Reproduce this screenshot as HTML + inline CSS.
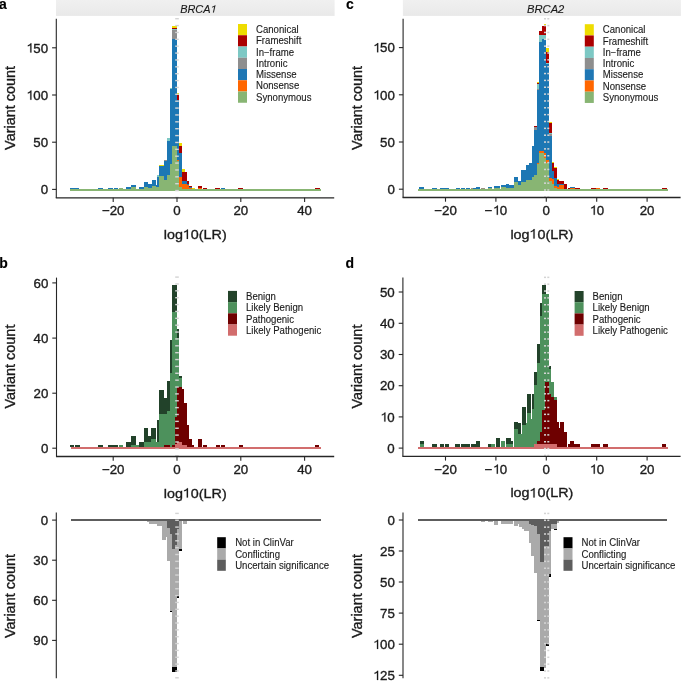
<!DOCTYPE html>
<html><head><meta charset="utf-8"><style>
html,body{margin:0;padding:0;background:#fff;width:685px;height:681px;overflow:hidden}
svg{display:block;will-change:transform}
text{font-family:"Liberation Sans", sans-serif;stroke:#1a1a1a;stroke-width:0.35px;paint-order:stroke}
text.lg{stroke-width:0.12px}
</style></head><body>
<svg width="685" height="681" viewBox="0 0 685 681" font-family='"Liberation Sans", sans-serif'>
<rect width="685" height="681" fill="#ffffff"/>
<defs><linearGradient id="sg" x1="0" y1="0" x2="0" y2="1"><stop offset="0" stop-color="#f0f0f0"/><stop offset="1" stop-color="#e9e9e9"/></linearGradient></defs>
<rect x="56.00" y="0.00" width="278.60" height="15.90" fill="url(#sg)"/>
<rect x="402.90" y="0.00" width="278.00" height="15.90" fill="url(#sg)"/>
<g transform="translate(180.15,12.6) scale(1.0135,1)">
<text x="0.00" y="0" font-size="10.8" font-weight="normal" font-style="italic" fill="#1a1a1a" class="lg">BRCA</text>
<path transform="translate(30.01,0) translate(-1.2,0) skewX(-12) scale(0.01080,-0.01080)" d="M415 0L415 690L358 690Q328 622 240 578Q190 555 145 542L145 466Q232 492 328 548L328 0Z" fill="#1a1a1a" stroke="#1a1a1a" stroke-width="7.4" stroke-linejoin="round"/>
</g>
<text x="545.7" y="12.6" font-size="10.8" text-anchor="middle" font-weight="normal" font-style="italic" fill="#1a1a1a" textLength="37.3" lengthAdjust="spacingAndGlyphs" class="lg">BRCA2</text>
<text x="-1.0" y="9.1" font-size="14" text-anchor="start" font-weight="bold" font-style="normal" fill="#000" class="lg">a</text>
<text x="345.9" y="9.2" font-size="14" text-anchor="start" font-weight="bold" font-style="normal" fill="#000" class="lg">c</text>
<text x="-0.8" y="267.6" font-size="14" text-anchor="start" font-weight="bold" font-style="normal" fill="#000" class="lg">b</text>
<text x="345.6" y="267.9" font-size="14" text-anchor="start" font-weight="bold" font-style="normal" fill="#000" class="lg">d</text>
<defs><filter id="bl" x="-5%" y="-5%" width="110%" height="110%"><feGaussianBlur stdDeviation="0.5"/></filter></defs>
<g shape-rendering="crispEdges" filter="url(#bl)">
<rect x="70.00" y="188.80" width="251.20" height="1.80" fill="#88B573"/>
<rect x="70.20" y="187.50" width="4.40" height="1.40" fill="#1F77B4"/>
<rect x="75.00" y="187.50" width="4.40" height="1.40" fill="#1F77B4"/>
<rect x="98.20" y="187.50" width="4.80" height="1.40" fill="#1F77B4"/>
<rect x="108.30" y="187.50" width="4.80" height="1.40" fill="#1F77B4"/>
<rect x="113.50" y="187.50" width="4.80" height="1.40" fill="#1F77B4"/>
<rect x="118.80" y="187.50" width="4.40" height="1.40" fill="#88B573"/>
<rect x="125.90" y="186.90" width="5.30" height="2.00" fill="#1F77B4"/>
<rect x="131.20" y="187.00" width="4.80" height="1.90" fill="#88B573"/>
<rect x="131.20" y="185.00" width="4.80" height="2.00" fill="#1F77B4"/>
<rect x="139.20" y="187.00" width="4.60" height="1.90" fill="#1F77B4"/>
<rect x="143.80" y="187.00" width="4.50" height="1.90" fill="#88B573"/>
<rect x="143.80" y="182.00" width="4.50" height="5.00" fill="#1F77B4"/>
<rect x="148.30" y="187.90" width="3.50" height="1.00" fill="#88B573"/>
<rect x="148.30" y="183.90" width="3.50" height="4.00" fill="#1F77B4"/>
<rect x="151.80" y="185.90" width="4.00" height="3.00" fill="#88B573"/>
<rect x="151.80" y="180.10" width="4.00" height="5.80" fill="#1F77B4"/>
<rect x="155.80" y="187.00" width="1.20" height="1.90" fill="#88B573"/>
<rect x="155.80" y="185.40" width="1.20" height="1.60" fill="#1F77B4"/>
<rect x="157.00" y="186.90" width="2.10" height="2.00" fill="#88B573"/>
<rect x="157.00" y="176.50" width="2.10" height="10.40" fill="#1F77B4"/>
<rect x="157.00" y="175.30" width="2.10" height="1.20" fill="#7DC8C4"/>
<rect x="159.10" y="176.20" width="5.00" height="12.70" fill="#88B573"/>
<rect x="159.10" y="166.00" width="5.00" height="10.20" fill="#1F77B4"/>
<rect x="159.10" y="165.00" width="5.00" height="1.00" fill="#EEDC00"/>
<rect x="164.10" y="179.70" width="3.10" height="9.20" fill="#88B573"/>
<rect x="164.10" y="161.20" width="3.10" height="18.50" fill="#1F77B4"/>
<rect x="164.10" y="160.40" width="3.10" height="0.80" fill="#8E8E8E"/>
<rect x="167.10" y="175.10" width="2.70" height="13.80" fill="#88B573"/>
<rect x="167.10" y="141.00" width="2.70" height="34.10" fill="#1F77B4"/>
<rect x="167.10" y="137.60" width="2.70" height="3.40" fill="#7DC8C4"/>
<rect x="169.80" y="164.00" width="2.30" height="24.90" fill="#88B573"/>
<rect x="169.80" y="88.50" width="2.30" height="75.50" fill="#1F77B4"/>
<rect x="169.80" y="87.60" width="2.30" height="0.90" fill="#7DC8C4"/>
<rect x="172.10" y="146.10" width="4.50" height="42.80" fill="#88B573"/>
<rect x="172.10" y="38.70" width="4.50" height="107.40" fill="#1F77B4"/>
<rect x="172.10" y="30.10" width="4.50" height="8.60" fill="#8E8E8E"/>
<rect x="172.10" y="29.00" width="4.50" height="1.10" fill="#7DC8C4"/>
<rect x="172.10" y="27.90" width="4.50" height="1.10" fill="#AB0000"/>
<rect x="172.10" y="25.90" width="4.50" height="2.00" fill="#EEDC00"/>
<rect x="176.60" y="161.20" width="2.50" height="27.70" fill="#88B573"/>
<rect x="176.60" y="159.70" width="2.50" height="1.50" fill="#FF6600"/>
<rect x="176.60" y="99.90" width="2.50" height="59.80" fill="#1F77B4"/>
<rect x="176.60" y="95.00" width="2.50" height="4.90" fill="#AB0000"/>
<rect x="176.60" y="93.40" width="2.50" height="1.60" fill="#EEDC00"/>
<rect x="179.00" y="186.60" width="3.30" height="2.30" fill="#88B573"/>
<rect x="179.00" y="177.40" width="3.30" height="9.20" fill="#FF6600"/>
<rect x="179.00" y="152.60" width="3.30" height="24.80" fill="#1F77B4"/>
<rect x="179.00" y="146.10" width="3.30" height="6.50" fill="#AB0000"/>
<rect x="179.00" y="143.10" width="3.30" height="3.00" fill="#EEDC00"/>
<rect x="182.30" y="183.90" width="2.30" height="5.00" fill="#FF6600"/>
<rect x="182.30" y="180.80" width="2.30" height="3.10" fill="#1F77B4"/>
<rect x="182.30" y="171.70" width="2.30" height="9.10" fill="#AB0000"/>
<rect x="182.30" y="169.00" width="2.30" height="2.70" fill="#EEDC00"/>
<rect x="184.60" y="183.90" width="2.20" height="5.00" fill="#FF6600"/>
<rect x="184.60" y="180.80" width="2.20" height="3.10" fill="#1F77B4"/>
<rect x="184.60" y="171.70" width="2.20" height="9.10" fill="#AB0000"/>
<rect x="186.80" y="185.00" width="2.40" height="3.90" fill="#FF6600"/>
<rect x="186.80" y="183.90" width="2.40" height="1.10" fill="#1F77B4"/>
<rect x="186.80" y="180.80" width="2.40" height="3.10" fill="#AB0000"/>
<rect x="189.20" y="187.70" width="2.90" height="1.20" fill="#FF6600"/>
<rect x="189.20" y="186.90" width="2.90" height="0.80" fill="#1F77B4"/>
<rect x="189.20" y="185.80" width="2.90" height="1.10" fill="#AB0000"/>
<rect x="192.10" y="187.80" width="2.50" height="1.10" fill="#EEDC00"/>
<rect x="197.70" y="187.70" width="4.40" height="1.20" fill="#FF6600"/>
<rect x="197.70" y="186.00" width="4.40" height="1.70" fill="#AB0000"/>
<rect x="203.00" y="187.80" width="4.10" height="1.10" fill="#AB0000"/>
<rect x="215.40" y="187.80" width="4.50" height="1.10" fill="#AB0000"/>
<rect x="220.80" y="187.80" width="4.20" height="1.10" fill="#1F77B4"/>
<rect x="238.30" y="187.80" width="4.70" height="1.10" fill="#AB0000"/>
<rect x="314.90" y="187.80" width="4.90" height="1.10" fill="#AB0000"/>
<rect x="418.00" y="188.80" width="249.60" height="1.80" fill="#88B573"/>
<rect x="419.20" y="187.30" width="4.60" height="1.60" fill="#1F77B4"/>
<rect x="432.30" y="187.50" width="4.50" height="1.40" fill="#1F77B4"/>
<rect x="440.10" y="187.50" width="4.50" height="1.40" fill="#1F77B4"/>
<rect x="444.60" y="187.50" width="4.70" height="1.40" fill="#1F77B4"/>
<rect x="455.50" y="187.50" width="4.60" height="1.40" fill="#1F77B4"/>
<rect x="460.60" y="187.50" width="4.60" height="1.40" fill="#1F77B4"/>
<rect x="465.60" y="187.50" width="4.40" height="1.40" fill="#1F77B4"/>
<rect x="470.50" y="187.50" width="2.70" height="1.40" fill="#9a9181"/>
<rect x="473.20" y="187.70" width="2.60" height="1.20" fill="#1F77B4"/>
<rect x="475.80" y="186.90" width="4.10" height="2.00" fill="#1F77B4"/>
<rect x="480.80" y="187.50" width="4.10" height="1.40" fill="#9a9181"/>
<rect x="488.10" y="188.20" width="4.30" height="0.70" fill="#88B573"/>
<rect x="488.10" y="186.90" width="4.30" height="1.30" fill="#1F77B4"/>
<rect x="493.60" y="187.80" width="6.40" height="1.10" fill="#88B573"/>
<rect x="493.60" y="186.00" width="6.40" height="1.80" fill="#1F77B4"/>
<rect x="500.90" y="186.60" width="5.00" height="2.30" fill="#88B573"/>
<rect x="500.90" y="184.80" width="5.00" height="1.80" fill="#1F77B4"/>
<rect x="505.90" y="187.50" width="3.50" height="1.40" fill="#88B573"/>
<rect x="505.90" y="184.10" width="3.50" height="3.40" fill="#1F77B4"/>
<rect x="509.40" y="187.50" width="4.10" height="1.40" fill="#88B573"/>
<rect x="509.40" y="185.00" width="4.10" height="2.50" fill="#1F77B4"/>
<rect x="513.50" y="181.90" width="4.70" height="7.00" fill="#88B573"/>
<rect x="513.50" y="177.40" width="4.70" height="4.50" fill="#1F77B4"/>
<rect x="518.20" y="184.50" width="3.00" height="4.40" fill="#88B573"/>
<rect x="518.20" y="180.60" width="3.00" height="3.90" fill="#1F77B4"/>
<rect x="521.20" y="181.90" width="4.90" height="7.00" fill="#88B573"/>
<rect x="521.20" y="169.80" width="4.90" height="12.10" fill="#1F77B4"/>
<rect x="526.10" y="180.10" width="2.90" height="8.80" fill="#88B573"/>
<rect x="526.10" y="165.40" width="2.90" height="14.70" fill="#1F77B4"/>
<rect x="529.00" y="180.10" width="3.00" height="8.80" fill="#88B573"/>
<rect x="529.00" y="162.90" width="3.00" height="17.20" fill="#1F77B4"/>
<rect x="532.00" y="177.20" width="2.40" height="11.70" fill="#88B573"/>
<rect x="532.00" y="145.90" width="2.40" height="31.30" fill="#1F77B4"/>
<rect x="534.40" y="175.20" width="2.50" height="13.70" fill="#88B573"/>
<rect x="534.40" y="129.80" width="2.50" height="45.40" fill="#1F77B4"/>
<rect x="534.40" y="126.70" width="2.50" height="3.10" fill="#8E8E8E"/>
<rect x="534.40" y="126.00" width="2.50" height="0.70" fill="#AB0000"/>
<rect x="536.90" y="163.90" width="2.50" height="25.00" fill="#88B573"/>
<rect x="536.90" y="162.90" width="2.50" height="1.00" fill="#FF6600"/>
<rect x="536.90" y="90.10" width="2.50" height="72.80" fill="#1F77B4"/>
<rect x="536.90" y="88.80" width="2.50" height="1.30" fill="#8E8E8E"/>
<rect x="536.90" y="83.70" width="2.50" height="5.10" fill="#7DC8C4"/>
<rect x="536.90" y="82.80" width="2.50" height="0.90" fill="#AB0000"/>
<rect x="536.90" y="81.90" width="2.50" height="0.90" fill="#EEDC00"/>
<rect x="539.40" y="152.60" width="2.20" height="36.30" fill="#88B573"/>
<rect x="539.40" y="151.10" width="2.20" height="1.50" fill="#FF6600"/>
<rect x="539.40" y="42.00" width="2.20" height="109.10" fill="#1F77B4"/>
<rect x="539.40" y="35.00" width="2.20" height="7.00" fill="#7DC8C4"/>
<rect x="539.40" y="31.00" width="2.20" height="4.00" fill="#AB0000"/>
<rect x="541.60" y="152.60" width="2.20" height="36.30" fill="#88B573"/>
<rect x="541.60" y="151.10" width="2.20" height="1.50" fill="#FF6600"/>
<rect x="541.60" y="38.50" width="2.20" height="112.60" fill="#1F77B4"/>
<rect x="541.60" y="35.00" width="2.20" height="3.50" fill="#7DC8C4"/>
<rect x="541.60" y="25.90" width="2.20" height="9.10" fill="#AB0000"/>
<rect x="543.80" y="157.60" width="2.50" height="31.30" fill="#88B573"/>
<rect x="543.80" y="153.00" width="2.50" height="4.60" fill="#FF6600"/>
<rect x="543.80" y="38.50" width="2.50" height="114.50" fill="#1F77B4"/>
<rect x="543.80" y="35.00" width="2.50" height="3.50" fill="#7DC8C4"/>
<rect x="543.80" y="25.90" width="2.50" height="9.10" fill="#AB0000"/>
<rect x="543.80" y="23.70" width="2.50" height="2.20" fill="#EEDC00"/>
<rect x="546.30" y="162.90" width="2.60" height="26.00" fill="#88B573"/>
<rect x="546.30" y="160.20" width="2.60" height="2.70" fill="#FF6600"/>
<rect x="546.30" y="63.50" width="2.60" height="96.70" fill="#1F77B4"/>
<rect x="546.30" y="62.60" width="2.60" height="0.90" fill="#7DC8C4"/>
<rect x="546.30" y="52.00" width="2.60" height="10.60" fill="#AB0000"/>
<rect x="546.30" y="47.90" width="2.60" height="4.10" fill="#EEDC00"/>
<rect x="548.90" y="181.20" width="2.70" height="7.70" fill="#88B573"/>
<rect x="548.90" y="178.20" width="2.70" height="3.00" fill="#FF6600"/>
<rect x="548.90" y="136.10" width="2.70" height="42.10" fill="#1F77B4"/>
<rect x="548.90" y="134.40" width="2.70" height="1.70" fill="#8E8E8E"/>
<rect x="548.90" y="133.00" width="2.70" height="1.40" fill="#7DC8C4"/>
<rect x="548.90" y="122.50" width="2.70" height="10.50" fill="#AB0000"/>
<rect x="548.90" y="121.60" width="2.70" height="0.90" fill="#EEDC00"/>
<rect x="551.60" y="183.50" width="2.40" height="5.40" fill="#88B573"/>
<rect x="551.60" y="178.90" width="2.40" height="4.60" fill="#FF6600"/>
<rect x="551.60" y="171.30" width="2.40" height="7.60" fill="#1F77B4"/>
<rect x="551.60" y="163.30" width="2.40" height="8.00" fill="#AB0000"/>
<rect x="551.60" y="162.10" width="2.40" height="1.20" fill="#EEDC00"/>
<rect x="554.00" y="187.70" width="2.70" height="1.20" fill="#88B573"/>
<rect x="554.00" y="185.80" width="2.70" height="1.90" fill="#FF6600"/>
<rect x="554.00" y="177.80" width="2.70" height="8.00" fill="#1F77B4"/>
<rect x="554.00" y="168.10" width="2.70" height="9.70" fill="#AB0000"/>
<rect x="554.00" y="167.10" width="2.70" height="1.00" fill="#EEDC00"/>
<rect x="556.70" y="188.50" width="2.70" height="0.40" fill="#88B573"/>
<rect x="556.70" y="186.60" width="2.70" height="1.90" fill="#FF6600"/>
<rect x="556.70" y="184.30" width="2.70" height="2.30" fill="#1F77B4"/>
<rect x="556.70" y="180.10" width="2.70" height="4.20" fill="#AB0000"/>
<rect x="556.70" y="179.30" width="2.70" height="0.80" fill="#EEDC00"/>
<rect x="559.40" y="185.40" width="4.60" height="3.50" fill="#FF6600"/>
<rect x="559.40" y="184.30" width="4.60" height="1.10" fill="#1F77B4"/>
<rect x="559.40" y="181.20" width="4.60" height="3.10" fill="#AB0000"/>
<rect x="564.00" y="183.90" width="3.00" height="5.00" fill="#AB0000"/>
<rect x="567.90" y="187.80" width="2.20" height="1.10" fill="#AB0000"/>
<rect x="570.10" y="187.80" width="4.80" height="1.10" fill="#FF6600"/>
<rect x="570.10" y="186.80" width="4.80" height="1.00" fill="#1F77B4"/>
<rect x="574.90" y="187.80" width="4.70" height="1.10" fill="#AB0000"/>
<rect x="590.50" y="187.80" width="5.20" height="1.10" fill="#AB0000"/>
<rect x="595.70" y="187.80" width="4.30" height="1.10" fill="#FF6600"/>
<rect x="603.00" y="187.80" width="4.70" height="1.10" fill="#AB0000"/>
<rect x="662.00" y="187.80" width="4.50" height="1.10" fill="#AB0000"/>
<rect x="70.50" y="447.00" width="250.40" height="2.20" fill="#D26D6D"/>
<rect x="70.10" y="444.70" width="4.30" height="2.40" fill="#23432A"/>
<rect x="74.90" y="444.70" width="4.80" height="2.40" fill="#23432A"/>
<rect x="98.10" y="444.70" width="4.80" height="2.40" fill="#23432A"/>
<rect x="108.20" y="444.70" width="4.80" height="2.40" fill="#23432A"/>
<rect x="113.40" y="444.70" width="4.60" height="2.40" fill="#23432A"/>
<rect x="118.80" y="444.70" width="4.10" height="2.40" fill="#4E915C"/>
<rect x="125.90" y="442.20" width="5.00" height="4.90" fill="#23432A"/>
<rect x="130.90" y="444.70" width="4.60" height="2.40" fill="#4E915C"/>
<rect x="130.90" y="436.40" width="4.60" height="8.30" fill="#23432A"/>
<rect x="136.30" y="444.70" width="2.90" height="2.40" fill="#4E915C"/>
<rect x="139.20" y="442.20" width="4.60" height="4.90" fill="#23432A"/>
<rect x="143.80" y="441.80" width="4.60" height="5.30" fill="#4E915C"/>
<rect x="143.80" y="428.30" width="4.60" height="13.50" fill="#23432A"/>
<rect x="148.40" y="441.90" width="3.00" height="5.20" fill="#4E915C"/>
<rect x="148.40" y="436.40" width="3.00" height="5.50" fill="#23432A"/>
<rect x="151.40" y="439.00" width="4.60" height="8.10" fill="#4E915C"/>
<rect x="151.40" y="428.30" width="4.60" height="10.70" fill="#23432A"/>
<rect x="156.00" y="441.80" width="0.80" height="5.30" fill="#4E915C"/>
<rect x="156.80" y="441.60" width="2.50" height="5.50" fill="#4E915C"/>
<rect x="156.80" y="420.10" width="2.50" height="21.50" fill="#23432A"/>
<rect x="159.30" y="414.10" width="4.70" height="33.00" fill="#4E915C"/>
<rect x="159.30" y="389.70" width="4.70" height="24.40" fill="#23432A"/>
<rect x="164.00" y="444.90" width="3.00" height="2.20" fill="#6E0000"/>
<rect x="164.00" y="413.80" width="3.00" height="31.10" fill="#4E915C"/>
<rect x="164.00" y="398.20" width="3.00" height="15.60" fill="#23432A"/>
<rect x="167.00" y="444.90" width="2.60" height="2.20" fill="#6E0000"/>
<rect x="167.00" y="411.10" width="2.60" height="33.80" fill="#4E915C"/>
<rect x="167.00" y="381.20" width="2.60" height="29.90" fill="#23432A"/>
<rect x="169.60" y="372.90" width="2.60" height="74.20" fill="#4E915C"/>
<rect x="169.60" y="340.10" width="2.60" height="32.80" fill="#23432A"/>
<rect x="172.20" y="444.90" width="2.40" height="2.20" fill="#6E0000"/>
<rect x="172.20" y="311.90" width="2.40" height="133.00" fill="#4E915C"/>
<rect x="172.20" y="284.80" width="2.40" height="27.10" fill="#23432A"/>
<rect x="174.60" y="443.70" width="2.10" height="3.40" fill="#D26D6D"/>
<rect x="174.60" y="416.80" width="2.10" height="26.90" fill="#6E0000"/>
<rect x="174.60" y="311.90" width="2.10" height="104.90" fill="#4E915C"/>
<rect x="174.60" y="284.80" width="2.10" height="27.10" fill="#23432A"/>
<rect x="176.70" y="441.90" width="2.50" height="5.20" fill="#D26D6D"/>
<rect x="176.70" y="387.00" width="2.50" height="54.90" fill="#6E0000"/>
<rect x="176.70" y="337.60" width="2.50" height="49.40" fill="#4E915C"/>
<rect x="176.70" y="328.80" width="2.50" height="8.80" fill="#23432A"/>
<rect x="179.20" y="441.90" width="2.60" height="5.20" fill="#D26D6D"/>
<rect x="179.20" y="386.70" width="2.60" height="55.20" fill="#6E0000"/>
<rect x="179.20" y="378.20" width="2.60" height="8.50" fill="#4E915C"/>
<rect x="179.20" y="375.90" width="2.60" height="2.30" fill="#23432A"/>
<rect x="181.80" y="444.90" width="2.10" height="2.20" fill="#D26D6D"/>
<rect x="181.80" y="389.40" width="2.10" height="55.50" fill="#6E0000"/>
<rect x="183.90" y="444.90" width="2.90" height="2.20" fill="#D26D6D"/>
<rect x="183.90" y="403.20" width="2.90" height="41.70" fill="#6E0000"/>
<rect x="186.80" y="425.10" width="2.50" height="22.00" fill="#6E0000"/>
<rect x="189.30" y="439.00" width="2.40" height="8.10" fill="#6E0000"/>
<rect x="191.70" y="444.50" width="2.50" height="2.60" fill="#6E0000"/>
<rect x="197.90" y="439.10" width="4.20" height="8.00" fill="#6E0000"/>
<rect x="203.00" y="444.80" width="4.00" height="2.30" fill="#6E0000"/>
<rect x="216.00" y="444.80" width="4.00" height="2.30" fill="#6E0000"/>
<rect x="221.00" y="444.80" width="3.80" height="2.30" fill="#6E0000"/>
<rect x="238.90" y="444.80" width="3.90" height="2.30" fill="#6E0000"/>
<rect x="315.00" y="444.80" width="4.40" height="2.30" fill="#6E0000"/>
<rect x="418.00" y="447.00" width="250.00" height="2.20" fill="#D26D6D"/>
<rect x="419.70" y="444.00" width="4.10" height="3.10" fill="#4E915C"/>
<rect x="419.70" y="441.00" width="4.10" height="3.00" fill="#23432A"/>
<rect x="432.10" y="444.40" width="4.90" height="2.70" fill="#23432A"/>
<rect x="440.00" y="444.40" width="4.40" height="2.70" fill="#23432A"/>
<rect x="444.80" y="444.40" width="4.40" height="2.70" fill="#23432A"/>
<rect x="455.30" y="444.40" width="4.40" height="2.70" fill="#23432A"/>
<rect x="460.60" y="444.40" width="4.40" height="2.70" fill="#23432A"/>
<rect x="465.40" y="444.40" width="4.40" height="2.70" fill="#23432A"/>
<rect x="470.50" y="444.40" width="5.40" height="2.70" fill="#23432A"/>
<rect x="475.90" y="441.10" width="4.10" height="6.00" fill="#23432A"/>
<rect x="488.40" y="444.40" width="2.50" height="2.70" fill="#23432A"/>
<rect x="490.90" y="444.40" width="4.20" height="2.70" fill="#4E915C"/>
<rect x="496.00" y="438.10" width="4.20" height="9.00" fill="#23432A"/>
<rect x="501.00" y="441.10" width="4.20" height="6.00" fill="#4E915C"/>
<rect x="506.00" y="444.00" width="4.60" height="3.10" fill="#4E915C"/>
<rect x="506.00" y="438.10" width="4.60" height="5.90" fill="#23432A"/>
<rect x="510.60" y="444.00" width="2.50" height="3.10" fill="#4E915C"/>
<rect x="510.60" y="441.10" width="2.50" height="2.90" fill="#23432A"/>
<rect x="514.00" y="428.90" width="4.30" height="18.20" fill="#4E915C"/>
<rect x="514.00" y="422.40" width="4.30" height="6.50" fill="#23432A"/>
<rect x="518.30" y="434.30" width="2.70" height="12.80" fill="#4E915C"/>
<rect x="518.30" y="423.30" width="2.70" height="11.00" fill="#23432A"/>
<rect x="521.00" y="434.30" width="0.80" height="12.80" fill="#4E915C"/>
<rect x="521.80" y="425.10" width="4.20" height="22.00" fill="#4E915C"/>
<rect x="521.80" y="407.10" width="4.20" height="18.00" fill="#23432A"/>
<rect x="526.00" y="422.80" width="1.10" height="24.30" fill="#4E915C"/>
<rect x="527.10" y="413.00" width="3.70" height="34.10" fill="#4E915C"/>
<rect x="527.10" y="394.10" width="3.70" height="18.90" fill="#23432A"/>
<rect x="530.80" y="419.40" width="1.10" height="27.70" fill="#4E915C"/>
<rect x="531.90" y="409.30" width="2.30" height="37.80" fill="#4E915C"/>
<rect x="531.90" y="394.10" width="2.30" height="15.20" fill="#23432A"/>
<rect x="534.20" y="444.20" width="2.80" height="2.90" fill="#D26D6D"/>
<rect x="534.20" y="385.00" width="2.80" height="59.20" fill="#4E915C"/>
<rect x="534.20" y="372.10" width="2.80" height="12.90" fill="#23432A"/>
<rect x="537.00" y="444.20" width="2.60" height="2.90" fill="#D26D6D"/>
<rect x="537.00" y="441.30" width="2.60" height="2.90" fill="#6E0000"/>
<rect x="537.00" y="362.60" width="2.60" height="78.70" fill="#4E915C"/>
<rect x="537.00" y="344.20" width="2.60" height="18.40" fill="#23432A"/>
<rect x="539.60" y="444.20" width="2.60" height="2.90" fill="#D26D6D"/>
<rect x="539.60" y="431.70" width="2.60" height="12.50" fill="#6E0000"/>
<rect x="539.60" y="316.20" width="2.60" height="115.50" fill="#4E915C"/>
<rect x="539.60" y="303.30" width="2.60" height="12.90" fill="#23432A"/>
<rect x="542.20" y="444.20" width="2.30" height="2.90" fill="#D26D6D"/>
<rect x="542.20" y="410.10" width="2.30" height="34.10" fill="#6E0000"/>
<rect x="542.20" y="293.80" width="2.30" height="116.30" fill="#4E915C"/>
<rect x="542.20" y="285.00" width="2.30" height="8.80" fill="#23432A"/>
<rect x="544.50" y="444.20" width="1.80" height="2.90" fill="#D26D6D"/>
<rect x="544.50" y="381.70" width="1.80" height="62.50" fill="#6E0000"/>
<rect x="544.50" y="293.80" width="1.80" height="87.90" fill="#4E915C"/>
<rect x="544.50" y="285.00" width="1.80" height="8.80" fill="#23432A"/>
<rect x="546.30" y="444.20" width="2.80" height="2.90" fill="#D26D6D"/>
<rect x="546.30" y="381.70" width="2.80" height="62.50" fill="#6E0000"/>
<rect x="546.30" y="294.00" width="2.80" height="87.70" fill="#4E915C"/>
<rect x="549.10" y="444.20" width="2.20" height="2.90" fill="#D26D6D"/>
<rect x="549.10" y="394.10" width="2.20" height="50.10" fill="#6E0000"/>
<rect x="549.10" y="368.80" width="2.20" height="25.30" fill="#4E915C"/>
<rect x="549.10" y="366.20" width="2.20" height="2.60" fill="#23432A"/>
<rect x="551.30" y="444.20" width="2.60" height="2.90" fill="#D26D6D"/>
<rect x="551.30" y="397.10" width="2.60" height="47.10" fill="#6E0000"/>
<rect x="551.30" y="381.70" width="2.60" height="15.40" fill="#4E915C"/>
<rect x="553.90" y="444.20" width="2.70" height="2.90" fill="#D26D6D"/>
<rect x="553.90" y="400.40" width="2.70" height="43.80" fill="#6E0000"/>
<rect x="553.90" y="397.10" width="2.70" height="3.30" fill="#4E915C"/>
<rect x="556.60" y="422.40" width="2.30" height="24.70" fill="#6E0000"/>
<rect x="558.90" y="428.30" width="1.40" height="18.80" fill="#6E0000"/>
<rect x="560.30" y="422.40" width="3.50" height="24.70" fill="#6E0000"/>
<rect x="563.80" y="431.60" width="3.00" height="15.50" fill="#6E0000"/>
<rect x="567.70" y="443.90" width="2.60" height="3.20" fill="#6E0000"/>
<rect x="570.30" y="441.30" width="4.00" height="5.80" fill="#6E0000"/>
<rect x="574.30" y="443.90" width="5.20" height="3.20" fill="#6E0000"/>
<rect x="590.90" y="443.90" width="8.80" height="3.20" fill="#6E0000"/>
<rect x="603.20" y="443.90" width="4.30" height="3.20" fill="#6E0000"/>
<rect x="662.00" y="444.00" width="4.40" height="3.10" fill="#6E0000"/>
<rect x="146.50" y="520.90" width="2.50" height="1.30" fill="#AAAAAA"/>
<rect x="149.00" y="520.90" width="7.70" height="2.90" fill="#AAAAAA"/>
<rect x="156.70" y="520.90" width="5.10" height="4.90" fill="#AAAAAA"/>
<rect x="161.80" y="520.90" width="4.10" height="18.70" fill="#AAAAAA"/>
<rect x="165.90" y="520.90" width="1.10" height="16.10" fill="#AAAAAA"/>
<rect x="167.00" y="520.90" width="3.10" height="6.90" fill="#5D5D5D"/>
<rect x="167.00" y="527.80" width="3.10" height="32.80" fill="#AAAAAA"/>
<rect x="170.10" y="520.90" width="2.20" height="12.80" fill="#5D5D5D"/>
<rect x="170.10" y="533.70" width="2.20" height="76.80" fill="#AAAAAA"/>
<rect x="170.10" y="610.50" width="2.20" height="1.50" fill="#000000"/>
<rect x="172.30" y="520.90" width="2.20" height="27.60" fill="#5D5D5D"/>
<rect x="172.30" y="548.50" width="2.20" height="118.30" fill="#AAAAAA"/>
<rect x="172.30" y="666.80" width="2.20" height="4.70" fill="#000000"/>
<rect x="174.50" y="520.90" width="2.20" height="24.10" fill="#5D5D5D"/>
<rect x="174.50" y="545.00" width="2.20" height="121.80" fill="#AAAAAA"/>
<rect x="174.50" y="666.80" width="2.20" height="4.70" fill="#000000"/>
<rect x="176.70" y="520.90" width="2.30" height="7.80" fill="#5D5D5D"/>
<rect x="176.70" y="528.70" width="2.30" height="67.70" fill="#AAAAAA"/>
<rect x="176.70" y="596.40" width="2.30" height="1.80" fill="#000000"/>
<rect x="179.00" y="520.90" width="2.90" height="27.80" fill="#AAAAAA"/>
<rect x="179.00" y="548.70" width="2.90" height="1.90" fill="#000000"/>
<rect x="182.60" y="520.90" width="4.00" height="2.80" fill="#AAAAAA"/>
<rect x="70.80" y="519.10" width="250.00" height="1.90" fill="#5D5D5D"/>
<rect x="481.00" y="520.90" width="4.00" height="1.10" fill="#AAAAAA"/>
<rect x="488.20" y="520.90" width="4.40" height="0.80" fill="#AAAAAA"/>
<rect x="493.70" y="520.90" width="4.00" height="3.70" fill="#AAAAAA"/>
<rect x="501.40" y="520.90" width="11.70" height="2.60" fill="#AAAAAA"/>
<rect x="513.80" y="520.90" width="4.20" height="4.70" fill="#AAAAAA"/>
<rect x="518.00" y="520.90" width="1.10" height="3.20" fill="#AAAAAA"/>
<rect x="519.10" y="520.90" width="2.90" height="5.70" fill="#AAAAAA"/>
<rect x="522.00" y="520.90" width="2.20" height="8.30" fill="#AAAAAA"/>
<rect x="524.20" y="520.90" width="4.80" height="9.60" fill="#AAAAAA"/>
<rect x="529.00" y="520.90" width="2.00" height="2.60" fill="#5D5D5D"/>
<rect x="529.00" y="523.50" width="2.00" height="19.40" fill="#AAAAAA"/>
<rect x="531.00" y="520.90" width="3.20" height="4.40" fill="#5D5D5D"/>
<rect x="531.00" y="525.30" width="3.20" height="30.20" fill="#AAAAAA"/>
<rect x="534.20" y="520.90" width="2.90" height="5.50" fill="#5D5D5D"/>
<rect x="534.20" y="526.40" width="2.90" height="46.40" fill="#AAAAAA"/>
<rect x="537.10" y="520.90" width="2.40" height="12.70" fill="#5D5D5D"/>
<rect x="537.10" y="533.60" width="2.40" height="86.00" fill="#AAAAAA"/>
<rect x="537.10" y="619.60" width="2.40" height="1.20" fill="#000000"/>
<rect x="539.50" y="520.90" width="4.20" height="40.70" fill="#5D5D5D"/>
<rect x="539.50" y="561.60" width="4.20" height="105.70" fill="#AAAAAA"/>
<rect x="539.50" y="667.30" width="4.20" height="4.10" fill="#000000"/>
<rect x="543.70" y="520.90" width="2.30" height="24.90" fill="#5D5D5D"/>
<rect x="543.70" y="545.80" width="2.30" height="122.10" fill="#AAAAAA"/>
<rect x="546.00" y="520.90" width="2.80" height="24.90" fill="#5D5D5D"/>
<rect x="546.00" y="545.80" width="2.80" height="97.70" fill="#AAAAAA"/>
<rect x="546.00" y="643.50" width="2.80" height="2.30" fill="#000000"/>
<rect x="548.80" y="520.90" width="2.50" height="10.50" fill="#5D5D5D"/>
<rect x="548.80" y="531.40" width="2.50" height="42.10" fill="#AAAAAA"/>
<rect x="548.80" y="573.50" width="2.50" height="3.30" fill="#000000"/>
<rect x="551.30" y="520.90" width="2.30" height="2.60" fill="#5D5D5D"/>
<rect x="551.30" y="523.50" width="2.30" height="5.10" fill="#AAAAAA"/>
<rect x="553.60" y="520.90" width="3.30" height="2.60" fill="#5D5D5D"/>
<rect x="553.60" y="523.50" width="3.30" height="5.10" fill="#AAAAAA"/>
<rect x="553.60" y="528.60" width="3.30" height="1.20" fill="#000000"/>
<rect x="556.90" y="520.90" width="1.90" height="1.60" fill="#AAAAAA"/>
<rect x="417.50" y="519.00" width="249.60" height="1.90" fill="#5D5D5D"/>
</g>
<g><rect x="175.20" y="18.00" width="3.6" height="1.4" fill="#d4d4d4"/><rect x="175.20" y="24.88" width="3.6" height="1.4" fill="#d4d4d4"/><rect x="175.20" y="31.75" width="3.6" height="1.4" fill="#d4d4d4"/><rect x="175.20" y="38.62" width="3.6" height="1.4" fill="#d4d4d4"/><rect x="175.20" y="45.50" width="3.6" height="1.4" fill="#d4d4d4"/><rect x="175.20" y="52.38" width="3.6" height="1.4" fill="#d4d4d4"/><rect x="175.20" y="59.25" width="3.6" height="1.4" fill="#d4d4d4"/><rect x="175.20" y="66.12" width="3.6" height="1.4" fill="#d4d4d4"/><rect x="175.20" y="73.00" width="3.6" height="1.4" fill="#d4d4d4"/><rect x="175.20" y="79.88" width="3.6" height="1.4" fill="#d4d4d4"/><rect x="175.20" y="86.75" width="3.6" height="1.4" fill="#d4d4d4"/><rect x="175.20" y="93.62" width="3.6" height="1.4" fill="#d4d4d4"/><rect x="175.20" y="100.50" width="3.6" height="1.4" fill="#d4d4d4"/><rect x="175.20" y="107.38" width="3.6" height="1.4" fill="#d4d4d4"/><rect x="175.20" y="114.25" width="3.6" height="1.4" fill="#d4d4d4"/><rect x="175.20" y="121.12" width="3.6" height="1.4" fill="#d4d4d4"/><rect x="175.20" y="128.00" width="3.6" height="1.4" fill="#d4d4d4"/><rect x="175.20" y="134.88" width="3.6" height="1.4" fill="#d4d4d4"/><rect x="175.20" y="141.75" width="3.6" height="1.4" fill="#d4d4d4"/><rect x="175.20" y="148.62" width="3.6" height="1.4" fill="#d4d4d4"/><rect x="175.20" y="155.50" width="3.6" height="1.4" fill="#d4d4d4"/><rect x="175.20" y="162.38" width="3.6" height="1.4" fill="#d4d4d4"/><rect x="175.20" y="169.25" width="3.6" height="1.4" fill="#d4d4d4"/><rect x="175.20" y="176.12" width="3.6" height="1.4" fill="#d4d4d4"/><rect x="175.20" y="183.00" width="3.6" height="1.4" fill="#d4d4d4"/><rect x="175.20" y="189.88" width="3.6" height="1.4" fill="#d4d4d4"/><rect x="175.20" y="196.75" width="3.6" height="1.4" fill="#d4d4d4"/><rect x="544.00" y="18.00" width="2.0" height="1.5" fill="#d4d4d4"/><rect x="547.30" y="18.00" width="2.0" height="1.5" fill="#d4d4d4"/><rect x="544.00" y="24.85" width="2.0" height="1.5" fill="#d4d4d4"/><rect x="547.30" y="24.85" width="2.0" height="1.5" fill="#d4d4d4"/><rect x="544.00" y="31.70" width="2.0" height="1.5" fill="#d4d4d4"/><rect x="547.30" y="31.70" width="2.0" height="1.5" fill="#d4d4d4"/><rect x="544.00" y="38.55" width="2.0" height="1.5" fill="#d4d4d4"/><rect x="547.30" y="38.55" width="2.0" height="1.5" fill="#d4d4d4"/><rect x="544.00" y="45.40" width="2.0" height="1.5" fill="#d4d4d4"/><rect x="547.30" y="45.40" width="2.0" height="1.5" fill="#d4d4d4"/><rect x="544.00" y="52.25" width="2.0" height="1.5" fill="#d4d4d4"/><rect x="547.30" y="52.25" width="2.0" height="1.5" fill="#d4d4d4"/><rect x="544.00" y="59.10" width="2.0" height="1.5" fill="#d4d4d4"/><rect x="547.30" y="59.10" width="2.0" height="1.5" fill="#d4d4d4"/><rect x="544.00" y="65.95" width="2.0" height="1.5" fill="#d4d4d4"/><rect x="547.30" y="65.95" width="2.0" height="1.5" fill="#d4d4d4"/><rect x="544.00" y="72.80" width="2.0" height="1.5" fill="#d4d4d4"/><rect x="547.30" y="72.80" width="2.0" height="1.5" fill="#d4d4d4"/><rect x="544.00" y="79.65" width="2.0" height="1.5" fill="#d4d4d4"/><rect x="547.30" y="79.65" width="2.0" height="1.5" fill="#d4d4d4"/><rect x="544.00" y="86.50" width="2.0" height="1.5" fill="#d4d4d4"/><rect x="547.30" y="86.50" width="2.0" height="1.5" fill="#d4d4d4"/><rect x="544.00" y="93.35" width="2.0" height="1.5" fill="#d4d4d4"/><rect x="547.30" y="93.35" width="2.0" height="1.5" fill="#d4d4d4"/><rect x="544.00" y="100.20" width="2.0" height="1.5" fill="#d4d4d4"/><rect x="547.30" y="100.20" width="2.0" height="1.5" fill="#d4d4d4"/><rect x="544.00" y="107.05" width="2.0" height="1.5" fill="#d4d4d4"/><rect x="547.30" y="107.05" width="2.0" height="1.5" fill="#d4d4d4"/><rect x="544.00" y="113.90" width="2.0" height="1.5" fill="#d4d4d4"/><rect x="547.30" y="113.90" width="2.0" height="1.5" fill="#d4d4d4"/><rect x="544.00" y="120.75" width="2.0" height="1.5" fill="#d4d4d4"/><rect x="547.30" y="120.75" width="2.0" height="1.5" fill="#d4d4d4"/><rect x="544.00" y="127.60" width="2.0" height="1.5" fill="#d4d4d4"/><rect x="547.30" y="127.60" width="2.0" height="1.5" fill="#d4d4d4"/><rect x="544.00" y="134.45" width="2.0" height="1.5" fill="#d4d4d4"/><rect x="547.30" y="134.45" width="2.0" height="1.5" fill="#d4d4d4"/><rect x="544.00" y="141.30" width="2.0" height="1.5" fill="#d4d4d4"/><rect x="547.30" y="141.30" width="2.0" height="1.5" fill="#d4d4d4"/><rect x="544.00" y="148.15" width="2.0" height="1.5" fill="#d4d4d4"/><rect x="547.30" y="148.15" width="2.0" height="1.5" fill="#d4d4d4"/><rect x="544.00" y="155.00" width="2.0" height="1.5" fill="#d4d4d4"/><rect x="547.30" y="155.00" width="2.0" height="1.5" fill="#d4d4d4"/><rect x="544.00" y="161.85" width="2.0" height="1.5" fill="#d4d4d4"/><rect x="547.30" y="161.85" width="2.0" height="1.5" fill="#d4d4d4"/><rect x="544.00" y="168.70" width="2.0" height="1.5" fill="#d4d4d4"/><rect x="547.30" y="168.70" width="2.0" height="1.5" fill="#d4d4d4"/><rect x="544.00" y="175.55" width="2.0" height="1.5" fill="#d4d4d4"/><rect x="547.30" y="175.55" width="2.0" height="1.5" fill="#d4d4d4"/><rect x="544.00" y="182.40" width="2.0" height="1.5" fill="#d4d4d4"/><rect x="547.30" y="182.40" width="2.0" height="1.5" fill="#d4d4d4"/><rect x="544.00" y="189.25" width="2.0" height="1.5" fill="#d4d4d4"/><rect x="547.30" y="189.25" width="2.0" height="1.5" fill="#d4d4d4"/><rect x="544.00" y="196.10" width="2.0" height="1.5" fill="#d4d4d4"/><rect x="547.30" y="196.10" width="2.0" height="1.5" fill="#d4d4d4"/><rect x="175.20" y="276.40" width="3.6" height="1.4" fill="#d4d4d4"/><rect x="175.20" y="283.27" width="3.6" height="1.4" fill="#d4d4d4"/><rect x="175.20" y="290.14" width="3.6" height="1.4" fill="#d4d4d4"/><rect x="175.20" y="297.01" width="3.6" height="1.4" fill="#d4d4d4"/><rect x="175.20" y="303.88" width="3.6" height="1.4" fill="#d4d4d4"/><rect x="175.20" y="310.75" width="3.6" height="1.4" fill="#d4d4d4"/><rect x="175.20" y="317.62" width="3.6" height="1.4" fill="#d4d4d4"/><rect x="175.20" y="324.49" width="3.6" height="1.4" fill="#d4d4d4"/><rect x="175.20" y="331.36" width="3.6" height="1.4" fill="#d4d4d4"/><rect x="175.20" y="338.23" width="3.6" height="1.4" fill="#d4d4d4"/><rect x="175.20" y="345.10" width="3.6" height="1.4" fill="#d4d4d4"/><rect x="175.20" y="351.97" width="3.6" height="1.4" fill="#d4d4d4"/><rect x="175.20" y="358.84" width="3.6" height="1.4" fill="#d4d4d4"/><rect x="175.20" y="365.71" width="3.6" height="1.4" fill="#d4d4d4"/><rect x="175.20" y="372.58" width="3.6" height="1.4" fill="#d4d4d4"/><rect x="175.20" y="379.45" width="3.6" height="1.4" fill="#d4d4d4"/><rect x="175.20" y="386.32" width="3.6" height="1.4" fill="#d4d4d4"/><rect x="175.20" y="393.19" width="3.6" height="1.4" fill="#d4d4d4"/><rect x="175.20" y="400.06" width="3.6" height="1.4" fill="#d4d4d4"/><rect x="175.20" y="406.93" width="3.6" height="1.4" fill="#d4d4d4"/><rect x="175.20" y="413.80" width="3.6" height="1.4" fill="#d4d4d4"/><rect x="175.20" y="420.67" width="3.6" height="1.4" fill="#d4d4d4"/><rect x="175.20" y="427.54" width="3.6" height="1.4" fill="#d4d4d4"/><rect x="175.20" y="434.41" width="3.6" height="1.4" fill="#d4d4d4"/><rect x="175.20" y="441.28" width="3.6" height="1.4" fill="#d4d4d4"/><rect x="175.20" y="448.15" width="3.6" height="1.4" fill="#d4d4d4"/><rect x="175.20" y="455.02" width="3.6" height="1.4" fill="#d4d4d4"/><rect x="544.00" y="276.60" width="2.0" height="1.5" fill="#d4d4d4"/><rect x="547.30" y="276.60" width="2.0" height="1.5" fill="#d4d4d4"/><rect x="544.00" y="283.45" width="2.0" height="1.5" fill="#d4d4d4"/><rect x="547.30" y="283.45" width="2.0" height="1.5" fill="#d4d4d4"/><rect x="544.00" y="290.30" width="2.0" height="1.5" fill="#d4d4d4"/><rect x="547.30" y="290.30" width="2.0" height="1.5" fill="#d4d4d4"/><rect x="544.00" y="297.15" width="2.0" height="1.5" fill="#d4d4d4"/><rect x="547.30" y="297.15" width="2.0" height="1.5" fill="#d4d4d4"/><rect x="544.00" y="304.00" width="2.0" height="1.5" fill="#d4d4d4"/><rect x="547.30" y="304.00" width="2.0" height="1.5" fill="#d4d4d4"/><rect x="544.00" y="310.85" width="2.0" height="1.5" fill="#d4d4d4"/><rect x="547.30" y="310.85" width="2.0" height="1.5" fill="#d4d4d4"/><rect x="544.00" y="317.70" width="2.0" height="1.5" fill="#d4d4d4"/><rect x="547.30" y="317.70" width="2.0" height="1.5" fill="#d4d4d4"/><rect x="544.00" y="324.55" width="2.0" height="1.5" fill="#d4d4d4"/><rect x="547.30" y="324.55" width="2.0" height="1.5" fill="#d4d4d4"/><rect x="544.00" y="331.40" width="2.0" height="1.5" fill="#d4d4d4"/><rect x="547.30" y="331.40" width="2.0" height="1.5" fill="#d4d4d4"/><rect x="544.00" y="338.25" width="2.0" height="1.5" fill="#d4d4d4"/><rect x="547.30" y="338.25" width="2.0" height="1.5" fill="#d4d4d4"/><rect x="544.00" y="345.10" width="2.0" height="1.5" fill="#d4d4d4"/><rect x="547.30" y="345.10" width="2.0" height="1.5" fill="#d4d4d4"/><rect x="544.00" y="351.95" width="2.0" height="1.5" fill="#d4d4d4"/><rect x="547.30" y="351.95" width="2.0" height="1.5" fill="#d4d4d4"/><rect x="544.00" y="358.80" width="2.0" height="1.5" fill="#d4d4d4"/><rect x="547.30" y="358.80" width="2.0" height="1.5" fill="#d4d4d4"/><rect x="544.00" y="365.65" width="2.0" height="1.5" fill="#d4d4d4"/><rect x="547.30" y="365.65" width="2.0" height="1.5" fill="#d4d4d4"/><rect x="544.00" y="372.50" width="2.0" height="1.5" fill="#d4d4d4"/><rect x="547.30" y="372.50" width="2.0" height="1.5" fill="#d4d4d4"/><rect x="544.00" y="379.35" width="2.0" height="1.5" fill="#d4d4d4"/><rect x="547.30" y="379.35" width="2.0" height="1.5" fill="#d4d4d4"/><rect x="544.00" y="386.20" width="2.0" height="1.5" fill="#d4d4d4"/><rect x="547.30" y="386.20" width="2.0" height="1.5" fill="#d4d4d4"/><rect x="544.00" y="393.05" width="2.0" height="1.5" fill="#d4d4d4"/><rect x="547.30" y="393.05" width="2.0" height="1.5" fill="#d4d4d4"/><rect x="544.00" y="399.90" width="2.0" height="1.5" fill="#d4d4d4"/><rect x="547.30" y="399.90" width="2.0" height="1.5" fill="#d4d4d4"/><rect x="544.00" y="406.75" width="2.0" height="1.5" fill="#d4d4d4"/><rect x="547.30" y="406.75" width="2.0" height="1.5" fill="#d4d4d4"/><rect x="544.00" y="413.60" width="2.0" height="1.5" fill="#d4d4d4"/><rect x="547.30" y="413.60" width="2.0" height="1.5" fill="#d4d4d4"/><rect x="544.00" y="420.45" width="2.0" height="1.5" fill="#d4d4d4"/><rect x="547.30" y="420.45" width="2.0" height="1.5" fill="#d4d4d4"/><rect x="544.00" y="427.30" width="2.0" height="1.5" fill="#d4d4d4"/><rect x="547.30" y="427.30" width="2.0" height="1.5" fill="#d4d4d4"/><rect x="544.00" y="434.15" width="2.0" height="1.5" fill="#d4d4d4"/><rect x="547.30" y="434.15" width="2.0" height="1.5" fill="#d4d4d4"/><rect x="544.00" y="441.00" width="2.0" height="1.5" fill="#d4d4d4"/><rect x="547.30" y="441.00" width="2.0" height="1.5" fill="#d4d4d4"/><rect x="544.00" y="447.85" width="2.0" height="1.5" fill="#d4d4d4"/><rect x="547.30" y="447.85" width="2.0" height="1.5" fill="#d4d4d4"/><rect x="544.00" y="454.70" width="2.0" height="1.5" fill="#d4d4d4"/><rect x="547.30" y="454.70" width="2.0" height="1.5" fill="#d4d4d4"/><rect x="175.20" y="512.70" width="3.6" height="1.4" fill="#d4d4d4"/><rect x="175.20" y="519.55" width="3.6" height="1.4" fill="#d4d4d4"/><rect x="175.20" y="526.40" width="3.6" height="1.4" fill="#d4d4d4"/><rect x="175.20" y="533.25" width="3.6" height="1.4" fill="#d4d4d4"/><rect x="175.20" y="540.10" width="3.6" height="1.4" fill="#d4d4d4"/><rect x="175.20" y="546.95" width="3.6" height="1.4" fill="#d4d4d4"/><rect x="175.20" y="553.80" width="3.6" height="1.4" fill="#d4d4d4"/><rect x="175.20" y="560.65" width="3.6" height="1.4" fill="#d4d4d4"/><rect x="175.20" y="567.50" width="3.6" height="1.4" fill="#d4d4d4"/><rect x="175.20" y="574.35" width="3.6" height="1.4" fill="#d4d4d4"/><rect x="175.20" y="581.20" width="3.6" height="1.4" fill="#d4d4d4"/><rect x="175.20" y="588.05" width="3.6" height="1.4" fill="#d4d4d4"/><rect x="175.20" y="594.90" width="3.6" height="1.4" fill="#d4d4d4"/><rect x="175.20" y="601.75" width="3.6" height="1.4" fill="#d4d4d4"/><rect x="175.20" y="608.60" width="3.6" height="1.4" fill="#d4d4d4"/><rect x="175.20" y="615.45" width="3.6" height="1.4" fill="#d4d4d4"/><rect x="175.20" y="622.30" width="3.6" height="1.4" fill="#d4d4d4"/><rect x="175.20" y="629.15" width="3.6" height="1.4" fill="#d4d4d4"/><rect x="175.20" y="636.00" width="3.6" height="1.4" fill="#d4d4d4"/><rect x="175.20" y="642.85" width="3.6" height="1.4" fill="#d4d4d4"/><rect x="175.20" y="649.70" width="3.6" height="1.4" fill="#d4d4d4"/><rect x="175.20" y="656.55" width="3.6" height="1.4" fill="#d4d4d4"/><rect x="175.20" y="663.40" width="3.6" height="1.4" fill="#d4d4d4"/><rect x="175.20" y="670.25" width="3.6" height="1.4" fill="#d4d4d4"/><rect x="175.20" y="677.10" width="3.6" height="1.4" fill="#d4d4d4"/><rect x="544.00" y="512.70" width="2.0" height="1.5" fill="#d4d4d4"/><rect x="547.30" y="512.70" width="2.0" height="1.5" fill="#d4d4d4"/><rect x="544.00" y="519.55" width="2.0" height="1.5" fill="#d4d4d4"/><rect x="547.30" y="519.55" width="2.0" height="1.5" fill="#d4d4d4"/><rect x="544.00" y="526.40" width="2.0" height="1.5" fill="#d4d4d4"/><rect x="547.30" y="526.40" width="2.0" height="1.5" fill="#d4d4d4"/><rect x="544.00" y="533.25" width="2.0" height="1.5" fill="#d4d4d4"/><rect x="547.30" y="533.25" width="2.0" height="1.5" fill="#d4d4d4"/><rect x="544.00" y="540.10" width="2.0" height="1.5" fill="#d4d4d4"/><rect x="547.30" y="540.10" width="2.0" height="1.5" fill="#d4d4d4"/><rect x="544.00" y="546.95" width="2.0" height="1.5" fill="#d4d4d4"/><rect x="547.30" y="546.95" width="2.0" height="1.5" fill="#d4d4d4"/><rect x="544.00" y="553.80" width="2.0" height="1.5" fill="#d4d4d4"/><rect x="547.30" y="553.80" width="2.0" height="1.5" fill="#d4d4d4"/><rect x="544.00" y="560.65" width="2.0" height="1.5" fill="#d4d4d4"/><rect x="547.30" y="560.65" width="2.0" height="1.5" fill="#d4d4d4"/><rect x="544.00" y="567.50" width="2.0" height="1.5" fill="#d4d4d4"/><rect x="547.30" y="567.50" width="2.0" height="1.5" fill="#d4d4d4"/><rect x="544.00" y="574.35" width="2.0" height="1.5" fill="#d4d4d4"/><rect x="547.30" y="574.35" width="2.0" height="1.5" fill="#d4d4d4"/><rect x="544.00" y="581.20" width="2.0" height="1.5" fill="#d4d4d4"/><rect x="547.30" y="581.20" width="2.0" height="1.5" fill="#d4d4d4"/><rect x="544.00" y="588.05" width="2.0" height="1.5" fill="#d4d4d4"/><rect x="547.30" y="588.05" width="2.0" height="1.5" fill="#d4d4d4"/><rect x="544.00" y="594.90" width="2.0" height="1.5" fill="#d4d4d4"/><rect x="547.30" y="594.90" width="2.0" height="1.5" fill="#d4d4d4"/><rect x="544.00" y="601.75" width="2.0" height="1.5" fill="#d4d4d4"/><rect x="547.30" y="601.75" width="2.0" height="1.5" fill="#d4d4d4"/><rect x="544.00" y="608.60" width="2.0" height="1.5" fill="#d4d4d4"/><rect x="547.30" y="608.60" width="2.0" height="1.5" fill="#d4d4d4"/><rect x="544.00" y="615.45" width="2.0" height="1.5" fill="#d4d4d4"/><rect x="547.30" y="615.45" width="2.0" height="1.5" fill="#d4d4d4"/><rect x="544.00" y="622.30" width="2.0" height="1.5" fill="#d4d4d4"/><rect x="547.30" y="622.30" width="2.0" height="1.5" fill="#d4d4d4"/><rect x="544.00" y="629.15" width="2.0" height="1.5" fill="#d4d4d4"/><rect x="547.30" y="629.15" width="2.0" height="1.5" fill="#d4d4d4"/><rect x="544.00" y="636.00" width="2.0" height="1.5" fill="#d4d4d4"/><rect x="547.30" y="636.00" width="2.0" height="1.5" fill="#d4d4d4"/><rect x="544.00" y="642.85" width="2.0" height="1.5" fill="#d4d4d4"/><rect x="547.30" y="642.85" width="2.0" height="1.5" fill="#d4d4d4"/><rect x="544.00" y="649.70" width="2.0" height="1.5" fill="#d4d4d4"/><rect x="547.30" y="649.70" width="2.0" height="1.5" fill="#d4d4d4"/><rect x="544.00" y="656.55" width="2.0" height="1.5" fill="#d4d4d4"/><rect x="547.30" y="656.55" width="2.0" height="1.5" fill="#d4d4d4"/><rect x="544.00" y="663.40" width="2.0" height="1.5" fill="#d4d4d4"/><rect x="547.30" y="663.40" width="2.0" height="1.5" fill="#d4d4d4"/><rect x="544.00" y="670.25" width="2.0" height="1.5" fill="#d4d4d4"/><rect x="547.30" y="670.25" width="2.0" height="1.5" fill="#d4d4d4"/><rect x="544.00" y="677.10" width="2.0" height="1.5" fill="#d4d4d4"/><rect x="547.30" y="677.10" width="2.0" height="1.5" fill="#d4d4d4"/></g>
<line x1="56.3" y1="18.8" x2="56.3" y2="198.1" stroke="#262626" stroke-width="1.1"/>
<line x1="52.099999999999994" y1="189.4" x2="56.3" y2="189.4" stroke="#262626" stroke-width="1.1"/>
<text x="48.099999999999994" y="194.1" font-size="13.3" text-anchor="end" font-weight="normal" font-style="normal" fill="#1a1a1a">0</text>
<line x1="52.099999999999994" y1="142.2" x2="56.3" y2="142.2" stroke="#262626" stroke-width="1.1"/>
<text x="48.099999999999994" y="146.89999999999998" font-size="13.3" text-anchor="end" font-weight="normal" font-style="normal" fill="#1a1a1a">50</text>
<line x1="52.099999999999994" y1="95.0" x2="56.3" y2="95.0" stroke="#262626" stroke-width="1.1"/>
<g transform="translate(25.91,99.7) scale(1.0000,1)">
<path transform="translate(0.00,0) scale(0.01330,-0.01330)" d="M415 0L415 690L358 690Q328 622 240 578Q190 555 145 542L145 466Q232 492 328 548L328 0Z" fill="#1a1a1a" stroke="#1a1a1a" stroke-width="15.0" stroke-linejoin="round"/>
<text x="7.40" y="0" font-size="13.3" font-weight="normal" font-style="normal" fill="#1a1a1a">00</text>
</g>
<line x1="52.099999999999994" y1="47.8" x2="56.3" y2="47.8" stroke="#262626" stroke-width="1.1"/>
<g transform="translate(25.91,52.5) scale(1.0000,1)">
<path transform="translate(0.00,0) scale(0.01330,-0.01330)" d="M415 0L415 690L358 690Q328 622 240 578Q190 555 145 542L145 466Q232 492 328 548L328 0Z" fill="#1a1a1a" stroke="#1a1a1a" stroke-width="15.0" stroke-linejoin="round"/>
<text x="7.40" y="0" font-size="13.3" font-weight="normal" font-style="normal" fill="#1a1a1a">50</text>
</g>
<line x1="55.8" y1="197.8" x2="334.2" y2="197.8" stroke="#262626" stroke-width="1.35"/>
<line x1="113.2" y1="197.8" x2="113.2" y2="202.0" stroke="#262626" stroke-width="1.1"/>
<text x="113.2" y="215.2" font-size="13.3" text-anchor="middle" font-weight="normal" font-style="normal" fill="#1a1a1a">−20</text>
<line x1="177.0" y1="197.8" x2="177.0" y2="202.0" stroke="#262626" stroke-width="1.1"/>
<text x="177.0" y="215.2" font-size="13.3" text-anchor="middle" font-weight="normal" font-style="normal" fill="#1a1a1a">0</text>
<line x1="240.8" y1="197.8" x2="240.8" y2="202.0" stroke="#262626" stroke-width="1.1"/>
<text x="240.8" y="215.2" font-size="13.3" text-anchor="middle" font-weight="normal" font-style="normal" fill="#1a1a1a">20</text>
<line x1="304.6" y1="197.8" x2="304.6" y2="202.0" stroke="#262626" stroke-width="1.1"/>
<text x="304.6" y="215.2" font-size="13.3" text-anchor="middle" font-weight="normal" font-style="normal" fill="#1a1a1a">40</text>
<g transform="translate(163.75,238.9) scale(1.0549,1)">
<text x="0.00" y="0" font-size="13.6" font-weight="normal" font-style="normal" fill="#1a1a1a">log</text>
<path transform="translate(17.33,0) scale(0.01360,-0.01360)" d="M415 0L415 690L358 690Q328 622 240 578Q190 555 145 542L145 466Q232 492 328 548L328 0Z" fill="#1a1a1a" stroke="#1a1a1a" stroke-width="14.7" stroke-linejoin="round"/>
<text x="25.71" y="0" font-size="13.6" font-weight="normal" font-style="normal" fill="#1a1a1a">0(LR)</text>
</g>
<text transform="translate(15.1,107.9) rotate(-90)" x="0" y="0" font-size="14.0" text-anchor="middle" fill="#1a1a1a" textLength="84" lengthAdjust="spacingAndGlyphs">Variant count</text>
<rect x="238.00" y="24.00" width="9.00" height="11.25" fill="#EEDC00"/>
<text x="256.0" y="33.225" font-size="10.0" text-anchor="start" font-weight="normal" font-style="normal" fill="#1a1a1a" textLength="42.69" lengthAdjust="spacingAndGlyphs" class="lg">Canonical</text>
<rect x="238.00" y="35.25" width="9.00" height="11.25" fill="#AB0000"/>
<text x="256.0" y="44.475" font-size="10.0" text-anchor="start" font-weight="normal" font-style="normal" fill="#1a1a1a" textLength="45.34" lengthAdjust="spacingAndGlyphs" class="lg">Frameshift</text>
<rect x="238.00" y="46.50" width="9.00" height="11.25" fill="#7DC8C4"/>
<text x="256.0" y="55.725" font-size="10.0" text-anchor="start" font-weight="normal" font-style="normal" fill="#1a1a1a" textLength="38.15" lengthAdjust="spacingAndGlyphs" class="lg">In−frame</text>
<rect x="238.00" y="57.75" width="9.00" height="11.25" fill="#8E8E8E"/>
<text x="256.0" y="66.975" font-size="10.0" text-anchor="start" font-weight="normal" font-style="normal" fill="#1a1a1a" textLength="31.48" lengthAdjust="spacingAndGlyphs" class="lg">Intronic</text>
<rect x="238.00" y="69.00" width="9.00" height="11.25" fill="#1F77B4"/>
<text x="256.0" y="78.225" font-size="10.0" text-anchor="start" font-weight="normal" font-style="normal" fill="#1a1a1a" textLength="40.55" lengthAdjust="spacingAndGlyphs" class="lg">Missense</text>
<rect x="238.00" y="80.25" width="9.00" height="11.25" fill="#FF6600"/>
<text x="256.0" y="89.475" font-size="10.0" text-anchor="start" font-weight="normal" font-style="normal" fill="#1a1a1a" textLength="43.23" lengthAdjust="spacingAndGlyphs" class="lg">Nonsense</text>
<rect x="238.00" y="91.50" width="9.00" height="11.25" fill="#88B573"/>
<text x="256.0" y="100.725" font-size="10.0" text-anchor="start" font-weight="normal" font-style="normal" fill="#1a1a1a" textLength="55.5" lengthAdjust="spacingAndGlyphs" class="lg">Synonymous</text>
<line x1="403.1" y1="18.8" x2="403.1" y2="197.7" stroke="#262626" stroke-width="1.1"/>
<line x1="398.90000000000003" y1="189.2" x2="403.1" y2="189.2" stroke="#262626" stroke-width="1.1"/>
<text x="394.90000000000003" y="193.89999999999998" font-size="13.3" text-anchor="end" font-weight="normal" font-style="normal" fill="#1a1a1a">0</text>
<line x1="398.90000000000003" y1="142.0" x2="403.1" y2="142.0" stroke="#262626" stroke-width="1.1"/>
<text x="394.90000000000003" y="146.7" font-size="13.3" text-anchor="end" font-weight="normal" font-style="normal" fill="#1a1a1a">50</text>
<line x1="398.90000000000003" y1="94.8" x2="403.1" y2="94.8" stroke="#262626" stroke-width="1.1"/>
<g transform="translate(372.71,99.5) scale(1.0000,1)">
<path transform="translate(0.00,0) scale(0.01330,-0.01330)" d="M415 0L415 690L358 690Q328 622 240 578Q190 555 145 542L145 466Q232 492 328 548L328 0Z" fill="#1a1a1a" stroke="#1a1a1a" stroke-width="15.0" stroke-linejoin="round"/>
<text x="7.40" y="0" font-size="13.3" font-weight="normal" font-style="normal" fill="#1a1a1a">00</text>
</g>
<line x1="398.90000000000003" y1="47.6" x2="403.1" y2="47.6" stroke="#262626" stroke-width="1.1"/>
<g transform="translate(372.71,52.300000000000004) scale(1.0000,1)">
<path transform="translate(0.00,0) scale(0.01330,-0.01330)" d="M415 0L415 690L358 690Q328 622 240 578Q190 555 145 542L145 466Q232 492 328 548L328 0Z" fill="#1a1a1a" stroke="#1a1a1a" stroke-width="15.0" stroke-linejoin="round"/>
<text x="7.40" y="0" font-size="13.3" font-weight="normal" font-style="normal" fill="#1a1a1a">50</text>
</g>
<line x1="402.6" y1="197.5" x2="680.6" y2="197.5" stroke="#262626" stroke-width="1.35"/>
<line x1="445.49999999999994" y1="197.5" x2="445.49999999999994" y2="201.7" stroke="#262626" stroke-width="1.1"/>
<text x="445.49999999999994" y="214.8" font-size="13.3" text-anchor="middle" font-weight="normal" font-style="normal" fill="#1a1a1a">−20</text>
<line x1="495.9" y1="197.5" x2="495.9" y2="201.7" stroke="#262626" stroke-width="1.1"/>
<g transform="translate(484.62,214.8) scale(1.0000,1)">
<text x="0.00" y="0" font-size="13.3" font-weight="normal" font-style="normal" fill="#1a1a1a">−</text>
<path transform="translate(7.77,0) scale(0.01330,-0.01330)" d="M415 0L415 690L358 690Q328 622 240 578Q190 555 145 542L145 466Q232 492 328 548L328 0Z" fill="#1a1a1a" stroke="#1a1a1a" stroke-width="15.0" stroke-linejoin="round"/>
<text x="15.16" y="0" font-size="13.3" font-weight="normal" font-style="normal" fill="#1a1a1a">0</text>
</g>
<line x1="546.3" y1="197.5" x2="546.3" y2="201.7" stroke="#262626" stroke-width="1.1"/>
<text x="546.3" y="214.8" font-size="13.3" text-anchor="middle" font-weight="normal" font-style="normal" fill="#1a1a1a">0</text>
<line x1="596.6999999999999" y1="197.5" x2="596.6999999999999" y2="201.7" stroke="#262626" stroke-width="1.1"/>
<g transform="translate(589.30,214.8) scale(1.0000,1)">
<path transform="translate(0.00,0) scale(0.01330,-0.01330)" d="M415 0L415 690L358 690Q328 622 240 578Q190 555 145 542L145 466Q232 492 328 548L328 0Z" fill="#1a1a1a" stroke="#1a1a1a" stroke-width="15.0" stroke-linejoin="round"/>
<text x="7.40" y="0" font-size="13.3" font-weight="normal" font-style="normal" fill="#1a1a1a">0</text>
</g>
<line x1="647.0999999999999" y1="197.5" x2="647.0999999999999" y2="201.7" stroke="#262626" stroke-width="1.1"/>
<text x="647.0999999999999" y="214.8" font-size="13.3" text-anchor="middle" font-weight="normal" font-style="normal" fill="#1a1a1a">20</text>
<g transform="translate(510.40,238.5) scale(1.0549,1)">
<text x="0.00" y="0" font-size="13.6" font-weight="normal" font-style="normal" fill="#1a1a1a">log</text>
<path transform="translate(17.33,0) scale(0.01360,-0.01360)" d="M415 0L415 690L358 690Q328 622 240 578Q190 555 145 542L145 466Q232 492 328 548L328 0Z" fill="#1a1a1a" stroke="#1a1a1a" stroke-width="14.7" stroke-linejoin="round"/>
<text x="25.71" y="0" font-size="13.6" font-weight="normal" font-style="normal" fill="#1a1a1a">0(LR)</text>
</g>
<text transform="translate(362.0,107.9) rotate(-90)" x="0" y="0" font-size="14.0" text-anchor="middle" fill="#1a1a1a" textLength="84" lengthAdjust="spacingAndGlyphs">Variant count</text>
<rect x="584.80" y="24.20" width="9.00" height="11.25" fill="#EEDC00"/>
<text x="602.8" y="33.425" font-size="10.0" text-anchor="start" font-weight="normal" font-style="normal" fill="#1a1a1a" textLength="42.69" lengthAdjust="spacingAndGlyphs" class="lg">Canonical</text>
<rect x="584.80" y="35.45" width="9.00" height="11.25" fill="#AB0000"/>
<text x="602.8" y="44.675000000000004" font-size="10.0" text-anchor="start" font-weight="normal" font-style="normal" fill="#1a1a1a" textLength="45.34" lengthAdjust="spacingAndGlyphs" class="lg">Frameshift</text>
<rect x="584.80" y="46.70" width="9.00" height="11.25" fill="#7DC8C4"/>
<text x="602.8" y="55.925000000000004" font-size="10.0" text-anchor="start" font-weight="normal" font-style="normal" fill="#1a1a1a" textLength="38.15" lengthAdjust="spacingAndGlyphs" class="lg">In−frame</text>
<rect x="584.80" y="57.95" width="9.00" height="11.25" fill="#8E8E8E"/>
<text x="602.8" y="67.175" font-size="10.0" text-anchor="start" font-weight="normal" font-style="normal" fill="#1a1a1a" textLength="31.48" lengthAdjust="spacingAndGlyphs" class="lg">Intronic</text>
<rect x="584.80" y="69.20" width="9.00" height="11.25" fill="#1F77B4"/>
<text x="602.8" y="78.425" font-size="10.0" text-anchor="start" font-weight="normal" font-style="normal" fill="#1a1a1a" textLength="40.55" lengthAdjust="spacingAndGlyphs" class="lg">Missense</text>
<rect x="584.80" y="80.45" width="9.00" height="11.25" fill="#FF6600"/>
<text x="602.8" y="89.675" font-size="10.0" text-anchor="start" font-weight="normal" font-style="normal" fill="#1a1a1a" textLength="43.23" lengthAdjust="spacingAndGlyphs" class="lg">Nonsense</text>
<rect x="584.80" y="91.70" width="9.00" height="11.25" fill="#88B573"/>
<text x="602.8" y="100.925" font-size="10.0" text-anchor="start" font-weight="normal" font-style="normal" fill="#1a1a1a" textLength="55.5" lengthAdjust="spacingAndGlyphs" class="lg">Synonymous</text>
<line x1="56.5" y1="277.6" x2="56.5" y2="456.8" stroke="#262626" stroke-width="1.1"/>
<line x1="52.3" y1="448.2" x2="56.5" y2="448.2" stroke="#262626" stroke-width="1.1"/>
<text x="48.3" y="452.9" font-size="13.3" text-anchor="end" font-weight="normal" font-style="normal" fill="#1a1a1a">0</text>
<line x1="52.3" y1="393.2" x2="56.5" y2="393.2" stroke="#262626" stroke-width="1.1"/>
<text x="48.3" y="397.9" font-size="13.3" text-anchor="end" font-weight="normal" font-style="normal" fill="#1a1a1a">20</text>
<line x1="52.3" y1="338.1" x2="56.5" y2="338.1" stroke="#262626" stroke-width="1.1"/>
<text x="48.3" y="342.8" font-size="13.3" text-anchor="end" font-weight="normal" font-style="normal" fill="#1a1a1a">40</text>
<line x1="52.3" y1="282.9" x2="56.5" y2="282.9" stroke="#262626" stroke-width="1.1"/>
<text x="48.3" y="287.59999999999997" font-size="13.3" text-anchor="end" font-weight="normal" font-style="normal" fill="#1a1a1a">60</text>
<line x1="56.0" y1="456.5" x2="334.2" y2="456.5" stroke="#262626" stroke-width="1.35"/>
<line x1="113.2" y1="456.5" x2="113.2" y2="460.7" stroke="#262626" stroke-width="1.1"/>
<text x="113.2" y="473.9" font-size="13.3" text-anchor="middle" font-weight="normal" font-style="normal" fill="#1a1a1a">−20</text>
<line x1="177.0" y1="456.5" x2="177.0" y2="460.7" stroke="#262626" stroke-width="1.1"/>
<text x="177.0" y="473.9" font-size="13.3" text-anchor="middle" font-weight="normal" font-style="normal" fill="#1a1a1a">0</text>
<line x1="240.8" y1="456.5" x2="240.8" y2="460.7" stroke="#262626" stroke-width="1.1"/>
<text x="240.8" y="473.9" font-size="13.3" text-anchor="middle" font-weight="normal" font-style="normal" fill="#1a1a1a">20</text>
<line x1="304.6" y1="456.5" x2="304.6" y2="460.7" stroke="#262626" stroke-width="1.1"/>
<text x="304.6" y="473.9" font-size="13.3" text-anchor="middle" font-weight="normal" font-style="normal" fill="#1a1a1a">40</text>
<g transform="translate(163.75,497.6) scale(1.0549,1)">
<text x="0.00" y="0" font-size="13.6" font-weight="normal" font-style="normal" fill="#1a1a1a">log</text>
<path transform="translate(17.33,0) scale(0.01360,-0.01360)" d="M415 0L415 690L358 690Q328 622 240 578Q190 555 145 542L145 466Q232 492 328 548L328 0Z" fill="#1a1a1a" stroke="#1a1a1a" stroke-width="14.7" stroke-linejoin="round"/>
<text x="25.71" y="0" font-size="13.6" font-weight="normal" font-style="normal" fill="#1a1a1a">0(LR)</text>
</g>
<text transform="translate(15.1,366.6) rotate(-90)" x="0" y="0" font-size="14.0" text-anchor="middle" fill="#1a1a1a" textLength="84" lengthAdjust="spacingAndGlyphs">Variant count</text>
<rect x="228.00" y="290.90" width="9.00" height="11.20" fill="#23432A"/>
<text x="246.0" y="300.1" font-size="10.0" text-anchor="start" font-weight="normal" font-style="normal" fill="#1a1a1a" textLength="29.89" lengthAdjust="spacingAndGlyphs" class="lg">Benign</text>
<rect x="228.00" y="302.10" width="9.00" height="11.20" fill="#4E915C"/>
<text x="246.0" y="311.3" font-size="10.0" text-anchor="start" font-weight="normal" font-style="normal" fill="#1a1a1a" textLength="57.1" lengthAdjust="spacingAndGlyphs" class="lg">Likely Benign</text>
<rect x="228.00" y="313.30" width="9.00" height="11.20" fill="#6E0000"/>
<text x="246.0" y="322.5" font-size="10.0" text-anchor="start" font-weight="normal" font-style="normal" fill="#1a1a1a" textLength="48.04" lengthAdjust="spacingAndGlyphs" class="lg">Pathogenic</text>
<rect x="228.00" y="324.50" width="9.00" height="11.20" fill="#D26D6D"/>
<text x="246.0" y="333.70000000000005" font-size="10.0" text-anchor="start" font-weight="normal" font-style="normal" fill="#1a1a1a" textLength="75.25" lengthAdjust="spacingAndGlyphs" class="lg">Likely Pathogenic</text>
<line x1="402.9" y1="277.4" x2="402.9" y2="456.6" stroke="#262626" stroke-width="1.1"/>
<line x1="398.7" y1="448.1" x2="402.9" y2="448.1" stroke="#262626" stroke-width="1.1"/>
<text x="394.7" y="452.8" font-size="13.3" text-anchor="end" font-weight="normal" font-style="normal" fill="#1a1a1a">0</text>
<line x1="398.7" y1="416.9" x2="402.9" y2="416.9" stroke="#262626" stroke-width="1.1"/>
<g transform="translate(379.91,421.59999999999997) scale(1.0000,1)">
<path transform="translate(0.00,0) scale(0.01330,-0.01330)" d="M415 0L415 690L358 690Q328 622 240 578Q190 555 145 542L145 466Q232 492 328 548L328 0Z" fill="#1a1a1a" stroke="#1a1a1a" stroke-width="15.0" stroke-linejoin="round"/>
<text x="7.40" y="0" font-size="13.3" font-weight="normal" font-style="normal" fill="#1a1a1a">0</text>
</g>
<line x1="398.7" y1="385.7" x2="402.9" y2="385.7" stroke="#262626" stroke-width="1.1"/>
<text x="394.7" y="390.4" font-size="13.3" text-anchor="end" font-weight="normal" font-style="normal" fill="#1a1a1a">20</text>
<line x1="398.7" y1="354.5" x2="402.9" y2="354.5" stroke="#262626" stroke-width="1.1"/>
<text x="394.7" y="359.2" font-size="13.3" text-anchor="end" font-weight="normal" font-style="normal" fill="#1a1a1a">30</text>
<line x1="398.7" y1="323.3" x2="402.9" y2="323.3" stroke="#262626" stroke-width="1.1"/>
<text x="394.7" y="328.0" font-size="13.3" text-anchor="end" font-weight="normal" font-style="normal" fill="#1a1a1a">40</text>
<line x1="398.7" y1="292.0" x2="402.9" y2="292.0" stroke="#262626" stroke-width="1.1"/>
<text x="394.7" y="296.7" font-size="13.3" text-anchor="end" font-weight="normal" font-style="normal" fill="#1a1a1a">50</text>
<line x1="402.4" y1="456.4" x2="680.6" y2="456.4" stroke="#262626" stroke-width="1.35"/>
<line x1="445.49999999999994" y1="456.4" x2="445.49999999999994" y2="460.59999999999997" stroke="#262626" stroke-width="1.1"/>
<text x="445.49999999999994" y="473.7" font-size="13.3" text-anchor="middle" font-weight="normal" font-style="normal" fill="#1a1a1a">−20</text>
<line x1="495.9" y1="456.4" x2="495.9" y2="460.59999999999997" stroke="#262626" stroke-width="1.1"/>
<g transform="translate(484.62,473.7) scale(1.0000,1)">
<text x="0.00" y="0" font-size="13.3" font-weight="normal" font-style="normal" fill="#1a1a1a">−</text>
<path transform="translate(7.77,0) scale(0.01330,-0.01330)" d="M415 0L415 690L358 690Q328 622 240 578Q190 555 145 542L145 466Q232 492 328 548L328 0Z" fill="#1a1a1a" stroke="#1a1a1a" stroke-width="15.0" stroke-linejoin="round"/>
<text x="15.16" y="0" font-size="13.3" font-weight="normal" font-style="normal" fill="#1a1a1a">0</text>
</g>
<line x1="546.3" y1="456.4" x2="546.3" y2="460.59999999999997" stroke="#262626" stroke-width="1.1"/>
<text x="546.3" y="473.7" font-size="13.3" text-anchor="middle" font-weight="normal" font-style="normal" fill="#1a1a1a">0</text>
<line x1="596.6999999999999" y1="456.4" x2="596.6999999999999" y2="460.59999999999997" stroke="#262626" stroke-width="1.1"/>
<g transform="translate(589.30,473.7) scale(1.0000,1)">
<path transform="translate(0.00,0) scale(0.01330,-0.01330)" d="M415 0L415 690L358 690Q328 622 240 578Q190 555 145 542L145 466Q232 492 328 548L328 0Z" fill="#1a1a1a" stroke="#1a1a1a" stroke-width="15.0" stroke-linejoin="round"/>
<text x="7.40" y="0" font-size="13.3" font-weight="normal" font-style="normal" fill="#1a1a1a">0</text>
</g>
<line x1="647.0999999999999" y1="456.4" x2="647.0999999999999" y2="460.59999999999997" stroke="#262626" stroke-width="1.1"/>
<text x="647.0999999999999" y="473.7" font-size="13.3" text-anchor="middle" font-weight="normal" font-style="normal" fill="#1a1a1a">20</text>
<g transform="translate(510.40,497.4) scale(1.0549,1)">
<text x="0.00" y="0" font-size="13.6" font-weight="normal" font-style="normal" fill="#1a1a1a">log</text>
<path transform="translate(17.33,0) scale(0.01360,-0.01360)" d="M415 0L415 690L358 690Q328 622 240 578Q190 555 145 542L145 466Q232 492 328 548L328 0Z" fill="#1a1a1a" stroke="#1a1a1a" stroke-width="14.7" stroke-linejoin="round"/>
<text x="25.71" y="0" font-size="13.6" font-weight="normal" font-style="normal" fill="#1a1a1a">0(LR)</text>
</g>
<text transform="translate(362.0,366.6) rotate(-90)" x="0" y="0" font-size="14.0" text-anchor="middle" fill="#1a1a1a" textLength="84" lengthAdjust="spacingAndGlyphs">Variant count</text>
<rect x="574.60" y="291.00" width="9.00" height="11.20" fill="#23432A"/>
<text x="592.6" y="300.20000000000005" font-size="10.0" text-anchor="start" font-weight="normal" font-style="normal" fill="#1a1a1a" textLength="29.89" lengthAdjust="spacingAndGlyphs" class="lg">Benign</text>
<rect x="574.60" y="302.20" width="9.00" height="11.20" fill="#4E915C"/>
<text x="592.6" y="311.40000000000003" font-size="10.0" text-anchor="start" font-weight="normal" font-style="normal" fill="#1a1a1a" textLength="57.1" lengthAdjust="spacingAndGlyphs" class="lg">Likely Benign</text>
<rect x="574.60" y="313.40" width="9.00" height="11.20" fill="#6E0000"/>
<text x="592.6" y="322.6" font-size="10.0" text-anchor="start" font-weight="normal" font-style="normal" fill="#1a1a1a" textLength="48.04" lengthAdjust="spacingAndGlyphs" class="lg">Pathogenic</text>
<rect x="574.60" y="324.60" width="9.00" height="11.20" fill="#D26D6D"/>
<text x="592.6" y="333.80000000000007" font-size="10.0" text-anchor="start" font-weight="normal" font-style="normal" fill="#1a1a1a" textLength="75.25" lengthAdjust="spacingAndGlyphs" class="lg">Likely Pathogenic</text>
<line x1="56.3" y1="512.6" x2="56.3" y2="678.3" stroke="#262626" stroke-width="1.1"/>
<line x1="52.099999999999994" y1="520.1" x2="56.3" y2="520.1" stroke="#262626" stroke-width="1.1"/>
<text x="48.099999999999994" y="524.8000000000001" font-size="13.3" text-anchor="end" font-weight="normal" font-style="normal" fill="#1a1a1a">0</text>
<line x1="52.099999999999994" y1="560.2" x2="56.3" y2="560.2" stroke="#262626" stroke-width="1.1"/>
<text x="48.099999999999994" y="564.9000000000001" font-size="13.3" text-anchor="end" font-weight="normal" font-style="normal" fill="#1a1a1a">30</text>
<line x1="52.099999999999994" y1="600.3" x2="56.3" y2="600.3" stroke="#262626" stroke-width="1.1"/>
<text x="48.099999999999994" y="605.0" font-size="13.3" text-anchor="end" font-weight="normal" font-style="normal" fill="#1a1a1a">60</text>
<line x1="52.099999999999994" y1="640.4" x2="56.3" y2="640.4" stroke="#262626" stroke-width="1.1"/>
<text x="48.099999999999994" y="645.1" font-size="13.3" text-anchor="end" font-weight="normal" font-style="normal" fill="#1a1a1a">90</text>
<text transform="translate(15.1,596.0) rotate(-90)" x="0" y="0" font-size="14.0" text-anchor="middle" fill="#1a1a1a" textLength="84" lengthAdjust="spacingAndGlyphs">Variant count</text>
<rect x="217.20" y="537.20" width="8.60" height="11.20" fill="#000000"/>
<text x="235.2" y="546.4000000000001" font-size="10.0" text-anchor="start" font-weight="normal" font-style="normal" fill="#1a1a1a" textLength="58.51" lengthAdjust="spacingAndGlyphs" class="lg">Not in ClinVar</text>
<rect x="217.20" y="548.40" width="8.60" height="11.20" fill="#AAAAAA"/>
<text x="235.2" y="557.6000000000001" font-size="10.0" text-anchor="start" font-weight="normal" font-style="normal" fill="#1a1a1a" textLength="44.82" lengthAdjust="spacingAndGlyphs" class="lg">Conflicting</text>
<rect x="217.20" y="559.60" width="8.60" height="11.20" fill="#5D5D5D"/>
<text x="235.2" y="568.8000000000001" font-size="10.0" text-anchor="start" font-weight="normal" font-style="normal" fill="#1a1a1a" textLength="93.91" lengthAdjust="spacingAndGlyphs" class="lg">Uncertain significance</text>
<line x1="403.0" y1="512.4" x2="403.0" y2="678.3" stroke="#262626" stroke-width="1.1"/>
<line x1="398.8" y1="520.0" x2="403.0" y2="520.0" stroke="#262626" stroke-width="1.1"/>
<text x="394.8" y="524.7" font-size="13.3" text-anchor="end" font-weight="normal" font-style="normal" fill="#1a1a1a">0</text>
<line x1="398.8" y1="551.0" x2="403.0" y2="551.0" stroke="#262626" stroke-width="1.1"/>
<text x="394.8" y="555.7" font-size="13.3" text-anchor="end" font-weight="normal" font-style="normal" fill="#1a1a1a">25</text>
<line x1="398.8" y1="582.0" x2="403.0" y2="582.0" stroke="#262626" stroke-width="1.1"/>
<text x="394.8" y="586.7" font-size="13.3" text-anchor="end" font-weight="normal" font-style="normal" fill="#1a1a1a">50</text>
<line x1="398.8" y1="613.1" x2="403.0" y2="613.1" stroke="#262626" stroke-width="1.1"/>
<text x="394.8" y="617.8000000000001" font-size="13.3" text-anchor="end" font-weight="normal" font-style="normal" fill="#1a1a1a">75</text>
<line x1="398.8" y1="644.2" x2="403.0" y2="644.2" stroke="#262626" stroke-width="1.1"/>
<g transform="translate(372.61,648.9000000000001) scale(1.0000,1)">
<path transform="translate(0.00,0) scale(0.01330,-0.01330)" d="M415 0L415 690L358 690Q328 622 240 578Q190 555 145 542L145 466Q232 492 328 548L328 0Z" fill="#1a1a1a" stroke="#1a1a1a" stroke-width="15.0" stroke-linejoin="round"/>
<text x="7.40" y="0" font-size="13.3" font-weight="normal" font-style="normal" fill="#1a1a1a">00</text>
</g>
<line x1="398.8" y1="675.3" x2="403.0" y2="675.3" stroke="#262626" stroke-width="1.1"/>
<g transform="translate(372.61,680.0) scale(1.0000,1)">
<path transform="translate(0.00,0) scale(0.01330,-0.01330)" d="M415 0L415 690L358 690Q328 622 240 578Q190 555 145 542L145 466Q232 492 328 548L328 0Z" fill="#1a1a1a" stroke="#1a1a1a" stroke-width="15.0" stroke-linejoin="round"/>
<text x="7.40" y="0" font-size="13.3" font-weight="normal" font-style="normal" fill="#1a1a1a">25</text>
</g>
<text transform="translate(362.2,596.0) rotate(-90)" x="0" y="0" font-size="14.0" text-anchor="middle" fill="#1a1a1a" textLength="84" lengthAdjust="spacingAndGlyphs">Variant count</text>
<rect x="563.50" y="537.20" width="9.00" height="11.20" fill="#000000"/>
<text x="581.5" y="546.4000000000001" font-size="10.0" text-anchor="start" font-weight="normal" font-style="normal" fill="#1a1a1a" textLength="58.51" lengthAdjust="spacingAndGlyphs" class="lg">Not in ClinVar</text>
<rect x="563.50" y="548.40" width="9.00" height="11.20" fill="#AAAAAA"/>
<text x="581.5" y="557.6000000000001" font-size="10.0" text-anchor="start" font-weight="normal" font-style="normal" fill="#1a1a1a" textLength="44.82" lengthAdjust="spacingAndGlyphs" class="lg">Conflicting</text>
<rect x="563.50" y="559.60" width="9.00" height="11.20" fill="#5D5D5D"/>
<text x="581.5" y="568.8000000000001" font-size="10.0" text-anchor="start" font-weight="normal" font-style="normal" fill="#1a1a1a" textLength="93.91" lengthAdjust="spacingAndGlyphs" class="lg">Uncertain significance</text>
</svg>
</body></html>
